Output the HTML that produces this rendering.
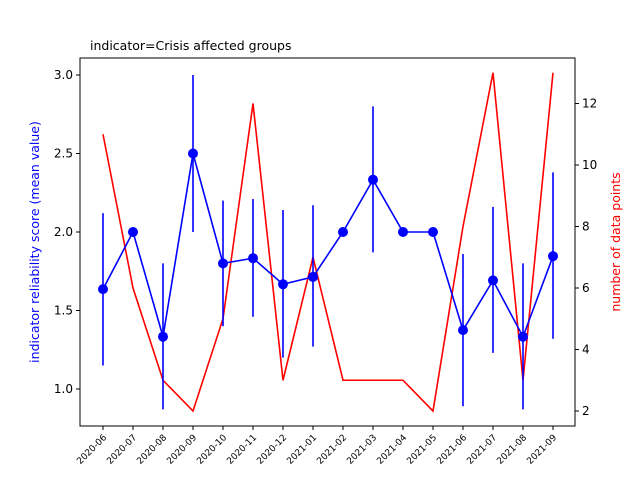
<!DOCTYPE html>
<html><head><meta charset="utf-8"><style>
body{margin:0;background:#fff;font-family:"Liberation Sans","DejaVu Sans",sans-serif}
svg text{font-family:"DejaVu Sans","Liberation Sans",sans-serif}
</style></head><body>
<svg id="chart" width="640" height="480"></svg>
<script>
const categories=["2020-06","2020-07","2020-08","2020-09","2020-10","2020-11","2020-12","2021-01","2021-02","2021-03","2021-04","2021-05","2021-06","2021-07","2021-08","2021-09"];
const meanValues=[1.636,2.0,1.333,2.5,1.8,1.833,1.667,1.714,2.0,2.333,2.0,2.0,1.375,1.692,1.333,1.846];
const errHigh=[2.12,2.0,1.80,3.0,2.2,2.21,2.14,2.17,2.0,2.8,2.0,2.0,1.86,2.16,1.80,2.38];
const errLow=[1.15,2.0,0.87,2.0,1.4,1.46,1.2,1.27,2.0,1.87,2.0,2.0,0.89,1.23,0.87,1.32];
const counts=[11,6,3,2,5,12,3,7,3,3,3,2,8,13,3,13];
const leftTicks=[1.0,1.5,2.0,2.5,3.0];
const rightTicks=[2,4,6,8,10,12];
const NS="http://www.w3.org/2000/svg";
const svg=document.getElementById('chart');
const L=80,R=575,T=58,B=426;
const x=i=>103+i*30;
const yL=v=>389-(v-1)*157;
const yR=v=>411-(v-2)*30.75;
function el(tag,attrs,parent){const e=document.createElementNS(NS,tag);for(const k in attrs)e.setAttribute(k,attrs[k]);(parent||svg).appendChild(e);return e;}
const frame=el('rect',{x:L,y:T,width:R-L,height:B-T,fill:'none',stroke:'#000','stroke-width':1});


const title=el('text',{x:L+10,y:50,'font-size':12.5});title.textContent='indicator=Crisis affected groups';


leftTicks.forEach(v=>{const y=yL(v);el('line',{x1:L-4,x2:L,y1:y,y2:y,stroke:'#000'});
const t=el('text',{x:L-7,y:y+4,'font-size':12,'text-anchor':'end'});t.textContent=v.toFixed(1);

});
rightTicks.forEach(v=>{const y=yR(v);el('line',{x1:R,x2:R+4,y1:y,y2:y,stroke:'#000'});
const t=el('text',{x:R+7,y:y+4,'font-size':12});t.textContent=v;

});
categories.forEach((c,i)=>{el('line',{x1:x(i),x2:x(i),y1:B,y2:B+4,stroke:'#000'});
const t=el('text',{x:x(i)+4,y:B+12,'font-size':9,'text-anchor':'end',transform:`rotate(-45 ${x(i)+4} ${B+12})`});t.textContent=c;

});
const yl=el('text',{x:0,y:0,'font-size':12.5,fill:'blue','text-anchor':'middle',transform:`translate(39 242) rotate(-90)`});yl.textContent='indicator reliability score (mean value)';


const yr=el('text',{x:0,y:0,'font-size':12.5,fill:'red','text-anchor':'middle',transform:`translate(620 242) rotate(-90)`});yr.textContent='number of data points';


const cl=el('polyline',{points:counts.map((v,i)=>x(i)+','+yR(v)).join(' '),fill:'none',stroke:'red','stroke-width':1.6});


meanValues.forEach((v,i)=>{const e=el('line',{x1:x(i),x2:x(i),y1:yL(errHigh[i]),y2:yL(errLow[i]),stroke:'blue','stroke-width':1.6});

});
const ml=el('polyline',{points:meanValues.map((v,i)=>x(i)+','+yL(v)).join(' '),fill:'none',stroke:'blue','stroke-width':1.6});


meanValues.forEach((v,i)=>{const c=el('circle',{cx:x(i),cy:yL(v),r:5,fill:'blue'});

});
</script>
</body></html>
